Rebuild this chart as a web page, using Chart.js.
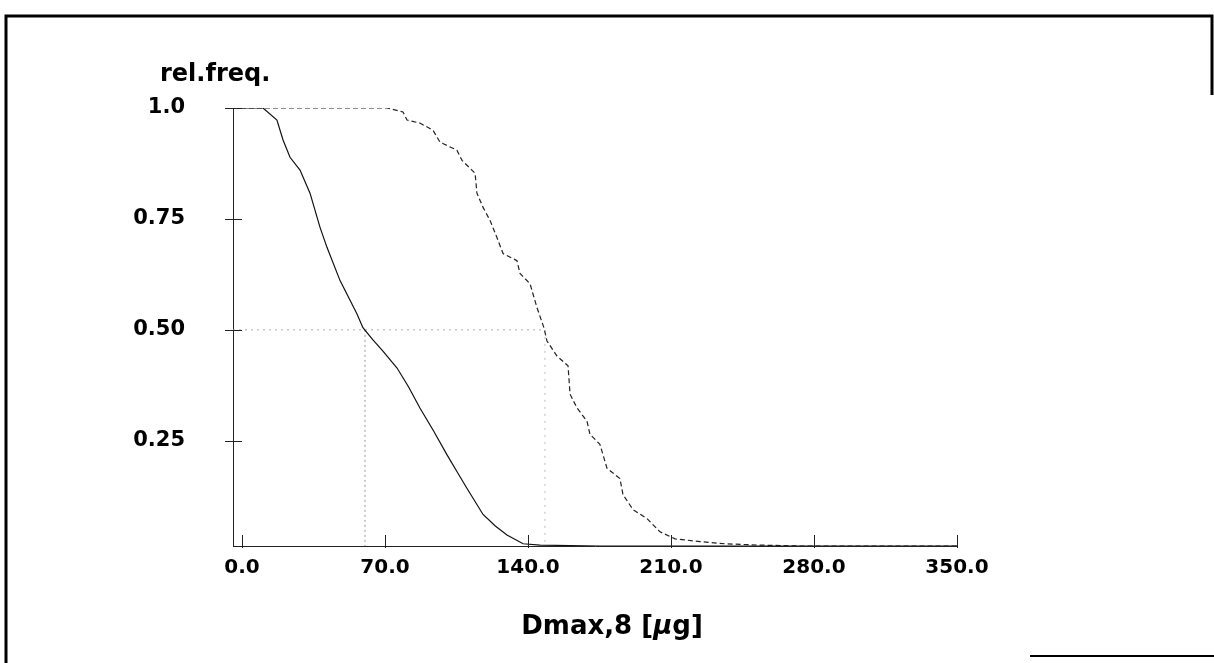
<!DOCTYPE html>
<html lang="en">
<head>
    <meta charset="UTF-8">
    <title>rel.freq. - Dmax,8</title>
    <script src="https://cdn.jsdelivr.net/npm/chart.js@4.4.1/dist/chart.umd.min.js"></script>
    <style>
        html, body {
            margin: 0;
            padding: 0;
            background: #fff;
        }
        #wrap {
            width: 1214px;
            height: 663px;
        }
    </style>
</head>
<body>
<div id="wrap">
    <canvas id="relFreqChart" width="1214" height="663"></canvas>
</div>

<script>
    // x tick values and y tick labels
    var xTicks = [0, 70, 140, 210, 280, 350];
    var yTicks = [0.25, 0.5, 0.75, 1.0];
    var yTickLabels = ['0.25', '0.50', '0.75', '1.0'];

    // solid curve
    var solidX = [-4.4, 10.3, 17.1, 20.1, 23.5, 28.4, 33.3, 38.2, 41.6, 48.0, 56.3, 59.2,
        64.0, 69.0, 75.9, 81.5, 87.1, 93.8, 100.3, 105.2, 110.1, 118.0, 124.0, 129.7, 137.6,
        145.9, 175.0, 350.0];
    var solidY = [1.0, 1.0, 0.973, 0.928, 0.889, 0.860, 0.808, 0.731, 0.686, 0.611, 0.536, 0.505,
        0.478, 0.452, 0.414, 0.372, 0.324, 0.272, 0.219, 0.181, 0.143, 0.084, 0.058, 0.038, 0.018,
        0.015, 0.013, 0.013];

    // dashed curve
    var dashedX = [-4.4, 71.0, 78.8, 80.8, 87.1, 93.5, 96.9, 105.2, 107.7, 114.1, 115.0, 118.0,
        121.4, 124.8, 127.8, 134.6, 136.1, 141.0, 144.4, 147.8, 149.3, 154.2, 159.6, 160.6, 164.0,
        168.9, 170.3, 175.2, 178.7, 185.0, 186.5, 191.4, 198.2, 204.6, 212.0, 224.2, 236.4, 253.6,
        273.1, 350.0];
    var dashedY = [1.0, 1.0, 0.991, 0.973, 0.966, 0.950, 0.923, 0.905, 0.882, 0.853, 0.808, 0.776,
        0.747, 0.708, 0.672, 0.656, 0.627, 0.604, 0.550, 0.505, 0.475, 0.441, 0.419, 0.355, 0.324,
        0.294, 0.265, 0.242, 0.188, 0.165, 0.129, 0.095, 0.075, 0.045, 0.029, 0.023, 0.018, 0.015,
        0.013, 0.013];

    // medians marked with dotted guide lines
    var medianLevel = 0.5;
    var medianSolid = 60.2;
    var medianDashed = 148.3;

    var xMin = -4.4, xMax = 350;
    var yMin = 0.013, yMax = 1.0;

    function toPoints(xs, ys) {
        return xs.map(function(x, i) { return {x: x, y: ys[i]}; });
    }

    var tickFont = {family: 'DejaVu Sans', weight: 'bold', size: 20};

    // frame, tick marks and titles
    var decoPlugin = {
        id: 'deco',
        afterDraw: function(chart) {
            var ctx = chart.ctx;
            var xs = chart.scales.x, ys = chart.scales.y;
            var area = chart.chartArea;
            ctx.save();

            // outer frame (partially cut like the scan)
            ctx.strokeStyle = '#000';
            ctx.lineWidth = 3;
            ctx.beginPath();
            ctx.moveTo(6, 663);
            ctx.lineTo(6, 16);
            ctx.lineTo(1212, 16);
            ctx.lineTo(1212, 95);
            ctx.stroke();
            ctx.lineWidth = 2;
            ctx.beginPath();
            ctx.moveTo(1030, 656);
            ctx.lineTo(1214, 656);
            ctx.stroke();

            // tick marks
            ctx.lineWidth = 1;
            ctx.strokeStyle = '#222';
            ctx.beginPath();
            yTicks.forEach(function(v) {
                var py = Math.round(ys.getPixelForValue(v)) + 0.5;
                ctx.moveTo(area.left - 8, py);
                ctx.lineTo(area.left + 9, py);
            });
            xTicks.forEach(function(v) {
                var px = Math.round(xs.getPixelForValue(v)) + 0.5;
                ctx.moveTo(px, area.bottom - 11);
                ctx.lineTo(px, area.bottom + 2);
            });
            ctx.stroke();

            // titles
            ctx.fillStyle = '#000';
            ctx.textBaseline = 'alphabetic';
            ctx.textAlign = 'left';
            ctx.font = 'bold 24px "DejaVu Sans"';
            ctx.fillText('rel.freq.', 160, 81);

            ctx.font = 'bold 26px "DejaVu Sans"';
            var parts = [
                {t: 'Dmax,8 [', f: 'bold 26px "DejaVu Sans"'},
                {t: '\u03bc', f: 'italic bold 26px "DejaVu Sans"'},
                {t: 'g]', f: 'bold 26px "DejaVu Sans"'}
            ];
            var total = 0;
            parts.forEach(function(p) { ctx.font = p.f; total += ctx.measureText(p.t).width; });
            var tx = 612 - total / 2;
            parts.forEach(function(p) {
                ctx.font = p.f;
                ctx.fillText(p.t, tx, 634);
                tx += ctx.measureText(p.t).width;
            });
            ctx.restore();
        }
    };

    var ctx = document.getElementById('relFreqChart').getContext('2d');
    new Chart(ctx, {
        type: 'scatter',
        data: {
            datasets: [{
                label: 'solid',
                data: toPoints(solidX, solidY),
                showLine: true,
                borderColor: '#111',
                borderWidth: 1.2,
                pointRadius: 0,
                tension: 0
            }, {
                label: 'dashed',
                data: toPoints(dashedX, dashedY),
                showLine: true,
                borderColor: '#222',
                borderWidth: 1.2,
                borderDash: [5, 3],
                pointRadius: 0,
                tension: 0
            }, {
                label: 'median level',
                data: [{x: xMin, y: medianLevel}, {x: medianDashed, y: medianLevel}],
                showLine: true,
                borderColor: '#aaa',
                borderWidth: 1,
                borderDash: [2, 4],
                pointRadius: 0
            }, {
                label: 'median solid',
                data: [{x: medianSolid, y: medianLevel}, {x: medianSolid, y: yMin}],
                showLine: true,
                borderColor: '#999',
                borderWidth: 1,
                borderDash: [2, 3],
                pointRadius: 0
            }, {
                label: 'median dashed',
                data: [{x: medianDashed, y: medianLevel}, {x: medianDashed, y: yMin}],
                showLine: true,
                borderColor: '#bbb',
                borderWidth: 1,
                borderDash: [2, 5],
                pointRadius: 0
            }]
        },
        options: {
            responsive: false,
            animation: false,
            layout: {
                padding: {left: 0, right: 257, top: 108, bottom: 0}
            },
            plugins: {
                legend: {display: false},
                tooltip: {enabled: false}
            },
            scales: {
                x: {
                    type: 'linear',
                    min: xMin,
                    max: xMax,
                    afterBuildTicks: function(s) {
                        s.ticks = xTicks.map(function(v) { return {value: v}; });
                    },
                    afterFit: function(s) { s.height = 117; },
                    grid: {display: false, drawTicks: false},
                    border: {display: true, color: '#222', width: 1},
                    ticks: {
                        autoSkip: false,
                        maxRotation: 0,
                        padding: 10,
                        color: '#000',
                        font: tickFont,
                        callback: function(v) { return v.toFixed(1); }
                    }
                },
                y: {
                    type: 'linear',
                    min: yMin,
                    max: yMax,
                    afterBuildTicks: function(s) {
                        s.ticks = yTicks.map(function(v) { return {value: v}; });
                    },
                    afterFit: function(s) { s.width = 233; },
                    grid: {display: false, drawTicks: false},
                    border: {display: true, color: '#222', width: 1},
                    ticks: {
                        autoSkip: false,
                        padding: 48,
                        color: '#000',
                        font: {family: 'DejaVu Sans', weight: 'bold', size: 21},
                        callback: function(v) {
                            var i = yTicks.indexOf(v);
                            return i >= 0 ? yTickLabels[i] : '';
                        }
                    }
                }
            }
        },
        plugins: [decoPlugin]
    });
</script>
</body>
</html>
